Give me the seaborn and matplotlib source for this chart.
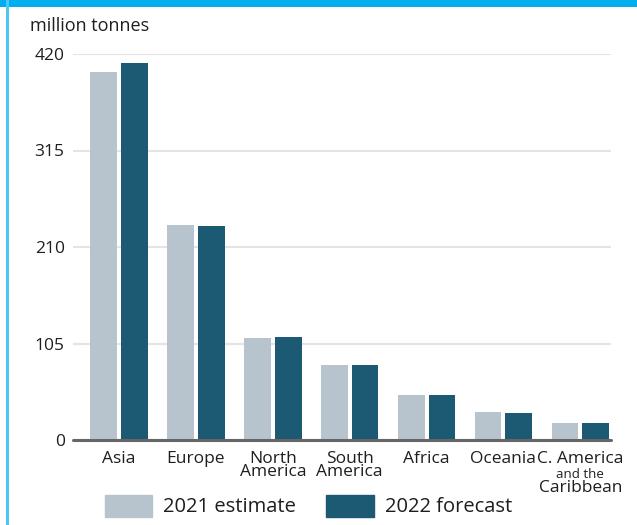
import matplotlib
matplotlib.use("Agg")
import matplotlib.pyplot as plt
import matplotlib.patches as mpatches
import pandas as pd
import seaborn as sns

# данные
regions = ["Asia", "Europe", "North\nAmerica", "South\nAmerica", "Africa", "Oceania", "C. America"]
est_2021 = [400, 234, 111, 82, 49, 30.5, 18.5]
fc_2022 = [410, 233, 112, 82, 49, 29.5, 18.5]
series = ["2021 estimate", "2022 forecast"]
yticks = [0, 105, 210, 315, 420]

colors = ["#b7c4cd", "#1b5a72"]

df = pd.DataFrame({
    "region": regions * 2,
    "value": est_2021 + fc_2022,
    "series": [series[0]] * len(regions) + [series[1]] * len(regions),
})

sns.set_style("white")
plt.rcParams["font.family"] = ["Open Sans", "DejaVu Sans"]

fig = plt.figure(figsize=(6.37, 5.25), dpi=100)
ax = fig.add_axes([73 / 637, 85 / 525, 538 / 637, 386 / 525])

sns.barplot(df, ax=ax, x="region", y="value", hue="series", palette=colors,
            width=0.8, gap=0.13, saturation=1, legend=False, linewidth=0, zorder=3)

ax.set_xlim(-0.6, 6.4)
ax.set_ylim(0, 420)
ax.set_yticks(yticks)
ax.set_yticklabels([str(t) for t in yticks], fontsize=12.5, color="#1e1e1e")
ax.yaxis.grid(True, color="#e4e4e4", lw=1.5, zorder=0)
ax.set_axisbelow(True)
ax.set_xlabel("")
ax.set_ylabel("")
ax.tick_params(axis="both", length=0)
ax.tick_params(axis="y", pad=6)
ax.tick_params(axis="x", pad=8)

ax.set_xticks(range(len(regions)))
ax.set_xticklabels(regions, fontsize=12.5, color="#1e1e1e", linespacing=0.78, va="top")

for s in ["top", "right", "left", "bottom"]:
    ax.spines[s].set_visible(False)
# базовая линия поверх столбцов
ax.axhline(0, color="#666666", lw=2.2, zorder=5, clip_on=False)

# подпись "C. America and the Caribbean" из трёх строк
tr = ax.get_xaxis_transform()
ax.text(6, -0.072, "and the", transform=tr, ha="center", va="top", fontsize=9.5,
        color="#1e1e1e")
ax.text(6, -0.104, "Caribbean", transform=tr, ha="center", va="top", fontsize=12.5,
        color="#1e1e1e")

fig.text(30 / 637, 1 - 26 / 525, "million tonnes", fontsize=13, color="#1e1e1e",
         va="center", ha="left")

handles = [mpatches.Patch(color=c, label=s) for c, s in zip(colors, series)]
fig.legend(handles=handles, loc="center", bbox_to_anchor=(0.484, 0.036), ncol=2,
           frameon=False, fontsize=14.5, handlelength=2.35, handleheight=1.3,
           handletextpad=0.55, columnspacing=1.5, labelcolor="#1e1e1e")

# рамка: синяя полоса сверху и линия слева
fig.add_artist(mpatches.Rectangle((0, 1 - 7 / 525), 1, 7 / 525, transform=fig.transFigure,
                                  color="#00aeef", lw=0))
fig.add_artist(mpatches.Rectangle((6 / 637, 0), 2.5 / 637, 1, transform=fig.transFigure,
                                  color="#4cc6f2", lw=0))

fig.savefig("out.png", dpi=100)
